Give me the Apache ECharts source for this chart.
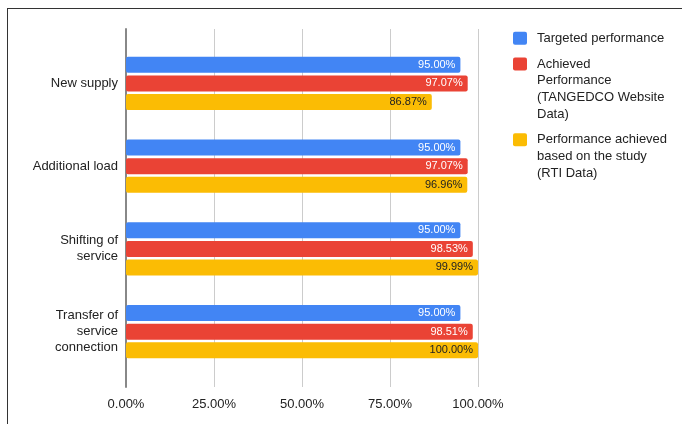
<!DOCTYPE html>
<html>
<head>
<meta charset="utf-8">
<script src="https://cdn.jsdelivr.net/npm/echarts@6/dist/echarts.min.js"></script>
<style>
html,body{margin:0;padding:0;background:#fff;}
#wrap{position:relative;width:682px;height:424px;overflow:hidden;background:#fff;}
#frame{position:absolute;left:7px;top:8px;width:800px;height:600px;border:1.5px solid #333;box-sizing:border-box;}
#chart{position:absolute;left:0;top:0;width:682px;height:424px;}
</style>
</head>
<body>
<div id="wrap"><div id="frame"></div><div id="chart"></div></div>
<script>
const categories = ['New supply', 'Additional load', 'Shifting of\nservice', 'Transfer of\nservice\nconnection'];
const seriesNames = ['Targeted performance', 'Achieved Performance (TANGEDCO Website Data)', 'Performance achieved based on the study (RTI Data)'];
const targeted = [95.00, 95.00, 95.00, 95.00];
const achievedWebsite = [97.07, 97.07, 98.53, 98.51];
const achievedRTI = [86.87, 96.96, 99.99, 100.00];
const xTicks = [0, 25, 50, 75, 100];

const colors = ['#4285F4', '#EA4335', '#FBBC04'];
const labelColors = ['#ffffff', '#ffffff', '#222222'];
const legendLines = [
  ['Targeted performance'],
  ['Achieved', 'Performance', '(TANGEDCO Website', 'Data)'],
  ['Performance achieved', 'based on the study', '(RTI Data)']
];
const FONT = '"Liberation Sans", Arial, sans-serif';

const chart = echarts.init(document.getElementById('chart'), null, {renderer: 'canvas'});
const dataArrays = [targeted, achievedWebsite, achievedRTI];

const rich = { t: {fontSize: 13, fontFamily: FONT, color: '#222', lineHeight: 16.7, padding: [0, 0, 0, 10]}, p: {width: 14, height: 13} };
colors.forEach((c, i) => { rich['s' + i] = {width: 14, height: 13, backgroundColor: c, borderRadius: 2}; });

const option = {
  animation: false,
  textStyle: {fontFamily: FONT},
  legend: {
    orient: 'vertical',
    left: 503,
    top: 25,
    itemWidth: 0,
    itemHeight: 0,
    icon: 'rect',
    itemGap: 9,
    selectedMode: true,
    data: seriesNames,
    formatter: function (name) {
      const i = seriesNames.indexOf(name);
      return legendLines[i].map((ln, k) => (k === 0 ? '{s' + i + '|}' : '{p|}') + '{t|' + ln + '}').join('\n');
    },
    textStyle: {rich: rich, fontSize: 13, lineHeight: 16.7}
  },
  grid: [
    {left: 126, top: 29, width: 352, height: 358},
    {left: 126, top: 42, width: 352, height: 331}
  ],
  xAxis: [
    {
      gridIndex: 0, type: 'value', min: 0, max: 100, interval: 25,
      axisLine: {show: false}, axisTick: {show: false},
      splitLine: {show: true, lineStyle: {color: '#cccccc', width: 1}},
      axisLabel: {formatter: v => v.toFixed(2) + '%', color: '#222', fontSize: 13, fontFamily: FONT, margin: 11}
    },
    {gridIndex: 1, type: 'value', min: 0, max: 100, show: false}
  ],
  yAxis: [
    {
      gridIndex: 0, type: 'value', min: 0, max: 1,
      axisLine: {show: true, lineStyle: {color: '#888888', width: 2}},
      axisTick: {show: false}, axisLabel: {show: false}, splitLine: {show: false}
    },
    {
      gridIndex: 1, type: 'category', inverse: true, data: categories,
      axisLine: {show: false}, axisTick: {show: false},
      axisLabel: {color: '#222', fontSize: 13, fontFamily: FONT, lineHeight: 16, margin: 8, align: 'right'}
    }
  ],
  series: dataArrays.map((arr, i) => ({
    name: seriesNames[i],
    type: 'bar',
    xAxisIndex: 1,
    yAxisIndex: 1,
    data: arr,
    barWidth: 16,
    barGap: '16%',
    itemStyle: {color: colors[i], borderRadius: 2},
    label: {
      show: true, position: 'insideRight', distance: 5,
      formatter: p => p.value.toFixed(2) + '%',
      color: labelColors[i], fontSize: 11, fontFamily: FONT
    },
    z: 3
  }))
};
chart.setOption(option);
</script>
</body>
</html>
